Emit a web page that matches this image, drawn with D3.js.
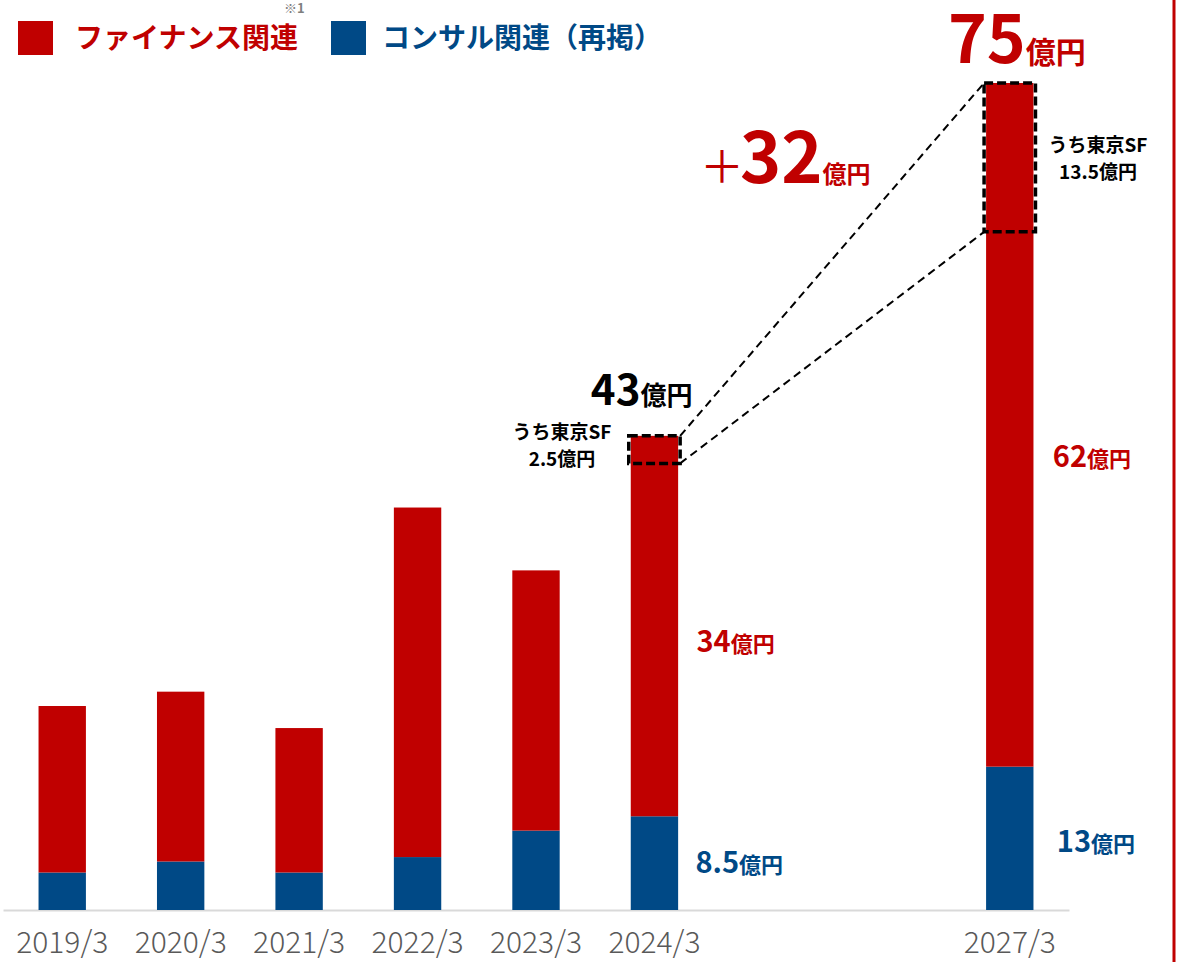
<!DOCTYPE html>
<html>
<head>
<meta charset="utf-8">
<script src="https://cdn.jsdelivr.net/npm/d3@7"></script>
<style>
  html, body { margin: 0; padding: 0; background: #fff; }
  svg { display: block; font-family: "Noto Sans CJK JP", "Noto Sans", sans-serif; }
</style>
</head>
<body>
<svg id="chart" width="1178" height="962"></svg>
<script>
"use strict";

// fiscal year slots (2025/3 and 2026/3 are empty gaps)
var slots = ["2019/3", "2020/3", "2021/3", "2022/3", "2023/3", "2024/3", "2025/3", "2026/3", "2027/3"];
var categories = ["2019/3", "2020/3", "2021/3", "2022/3", "2023/3", "2024/3", "2027/3"];
var consultValues = [3.4, 4.4, 3.4, 4.8, 7.2, 8.5, 13];
var financeValues = [15.1, 15.4, 13.1, 31.7, 23.6, 34.5, 62];
var sfCategories = ["2024/3", "2027/3"];
var sfValues = [2.5, 13.5];
var seriesNames = ["ファイナンス関連", "コンサル関連（再掲）"];

var RED = "#c00000";
var BLUE = "#004986";

var svg = d3.select("#chart");

var x = d3.scaleBand().domain(slots).range([3, 1069]).paddingInner(0.6).paddingOuter(0.3);
var y = d3.scaleLinear().domain([0, 75]).range([910, 83]);
var bw = x.bandwidth();

var rows = categories.map(function (c, i) {
  return { cat: c, consult: consultValues[i], finance: financeValues[i] };
});

// axis
var axis = svg.append("g")
  .attr("transform", "translate(0," + y(0) + ")")
  .call(d3.axisBottom(x).tickValues(categories).tickSize(0).tickSizeOuter(0).tickPadding(22));
axis.select(".domain").attr("stroke", "#d9d9d9").attr("stroke-width", 2);
axis.selectAll(".tick text")
  .attr("fill", "#595959")
  .style("font-family", "'Noto Sans CJK JP', sans-serif")
  .style("font-weight", 300)
  .style("font-size", "30px");

// bars
var bars = svg.append("g");
bars.selectAll("rect.consult")
  .data(rows).enter().append("rect")
  .attr("class", "consult")
  .attr("x", function (d) { return x(d.cat); })
  .attr("width", bw)
  .attr("y", function (d) { return y(d.consult); })
  .attr("height", function (d) { return y(0) - y(d.consult); })
  .attr("fill", BLUE);
bars.selectAll("rect.finance")
  .data(rows).enter().append("rect")
  .attr("class", "finance")
  .attr("x", function (d) { return x(d.cat); })
  .attr("width", bw)
  .attr("y", function (d) { return y(d.consult + d.finance); })
  .attr("height", function (d) { return y(d.consult) - y(d.consult + d.finance); })
  .attr("fill", RED);

// SF dashed boxes
var sfBoxes = sfCategories.map(function (c, i) {
  var r = rows[categories.indexOf(c)];
  var top = r.consult + r.finance;
  return { x0: x(c) - 2, x1: x(c) + bw + 2, y0: y(top), y1: y(top - sfValues[i]) };
});
svg.append("g").selectAll("rect")
  .data(sfBoxes).enter().append("rect")
  .attr("x", function (d) { return d.x0; })
  .attr("y", function (d) { return d.y0; })
  .attr("width", function (d) { return d.x1 - d.x0; })
  .attr("height", function (d) { return d.y1 - d.y0; })
  .attr("fill", "none")
  .attr("stroke", "#000")
  .attr("stroke-width", 3.5)
  .attr("stroke-dasharray", "9,4");

var a = sfBoxes[0], b = sfBoxes[1];
svg.append("g").selectAll("line")
  .data([[a.x1, a.y0, b.x0, b.y0], [a.x1, a.y1, b.x0, b.y1]])
  .enter().append("line")
  .attr("x1", function (d) { return d[0]; })
  .attr("y1", function (d) { return d[1]; })
  .attr("x2", function (d) { return d[2]; })
  .attr("y2", function (d) { return d[3]; })
  .attr("stroke", "#000")
  .attr("stroke-width", 2)
  .attr("stroke-dasharray", "8,5");

// right red rule
svg.append("line")
  .attr("x1", 1174).attr("x2", 1174).attr("y1", 0).attr("y2", 962)
  .attr("stroke", RED).attr("stroke-width", 3);

// legend
var legend = svg.append("g").style("font-weight", 700).style("font-size", "28px");
[[18, RED, 75], [331, BLUE, 382]].forEach(function (l, i) {
  legend.append("rect").attr("x", l[0]).attr("y", 21).attr("width", 35).attr("height", 34).attr("fill", l[1]);
  legend.append("text").attr("x", l[2]).attr("y", 48).attr("fill", l[1]).text(seriesNames[i]);
});
svg.append("text").attr("x", 284).attr("y", 13).attr("fill", "#7f7f7f")
  .style("font-size", "13px").style("font-weight", 700).text("※1");

// value labels
function label(px, py, num, unit, color, numSize, unitSize, anchor) {
  var t = svg.append("text").attr("x", px).attr("y", py).attr("fill", color)
    .attr("text-anchor", anchor || "start").style("font-weight", 700);
  t.append("tspan").style("font-size", numSize + "px").text(num);
  t.append("tspan").style("font-size", unitSize + "px").text(unit);
  return t;
}
var c24 = x("2024/3") + bw / 2, c27 = x("2027/3") + bw / 2;

label(c27 + 76, 63, "75", "億円", RED, 66, 30, "end");
var plus = svg.append("text").attr("x", 700).attr("y", 183).attr("fill", RED).style("font-weight", 700);
plus.append("tspan").style("font-size", "44px").style("font-weight", 400).text("＋");
plus.append("tspan").style("font-size", "70px").attr("dx", -4).text("32");
plus.append("tspan").style("font-size", "24px").text("億円");

label(c24 + 38, 405, "43", "億円", "#000", 42, 26, "end");
label(c27 + 43, 467, "62", "億円", RED, 29, 22);
label(c24 + 42, 652, "34", "億円", RED, 29, 22);
label(c24 + 41, 873, "8.5", "億円", BLUE, 29, 22);
label(c27 + 47, 852, "13", "億円", BLUE, 29, 22);

function sfNote(cx, cy, val) {
  var t = svg.append("text").attr("text-anchor", "middle").attr("fill", "#000")
    .style("font-size", "19px").style("font-weight", 700);
  t.append("tspan").attr("x", cx).attr("y", cy).text("うち東京SF");
  t.append("tspan").attr("x", cx).attr("y", cy + 27).text(val + "億円");
}
sfNote(562, 439, sfValues[0]);
sfNote(1098, 152, sfValues[1]);
</script>
</body>
</html>
